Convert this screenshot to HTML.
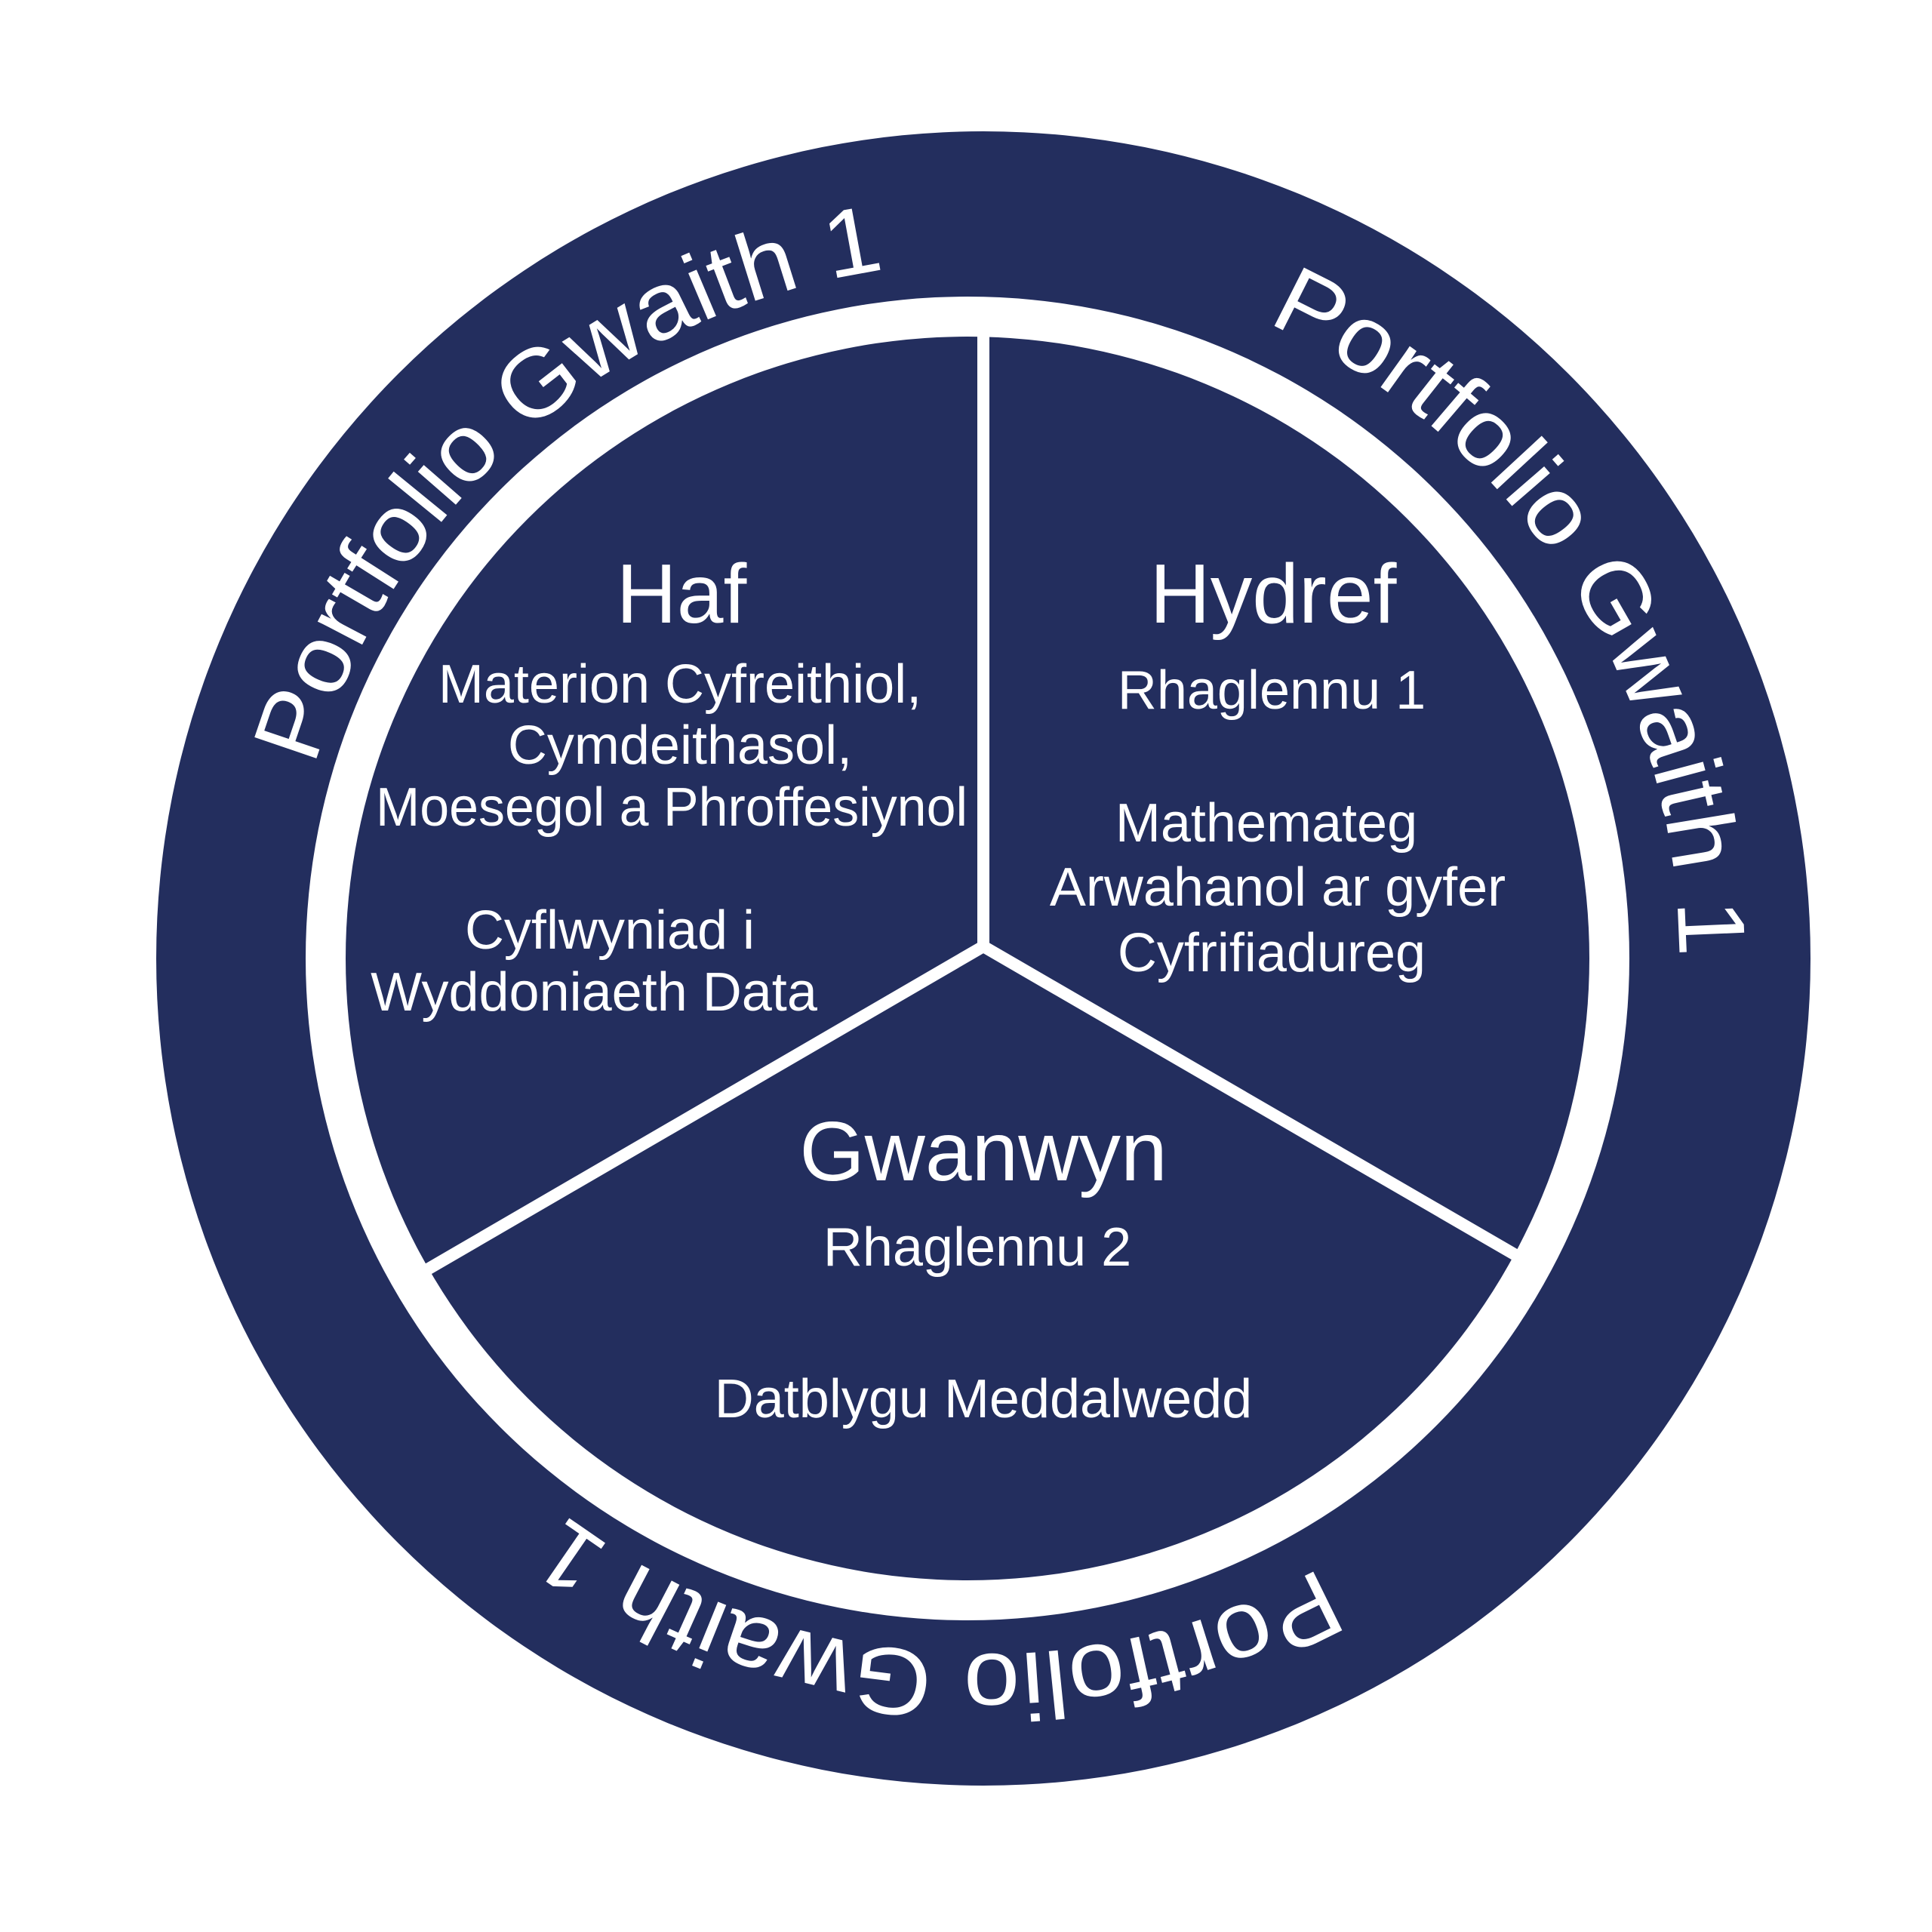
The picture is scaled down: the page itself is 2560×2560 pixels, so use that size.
<!DOCTYPE html>
<html><head><meta charset="utf-8"><style>html,body{margin:0;padding:0;background:#fff}svg{display:block}</style></head>
<body>
<svg width="2560" height="2560" viewBox="0 0 2560 2560" xmlns="http://www.w3.org/2000/svg" font-family="Liberation Sans, sans-serif">
<rect width="2560" height="2560" fill="#fff"/>
<circle cx="1303" cy="1270" r="1096" fill="#232e5e"/>
<circle cx="1282" cy="1270" r="877" fill="#fff"/>
<circle cx="1282" cy="1270" r="824" fill="#232e5e"/>
<g stroke="#fff" stroke-width="16" stroke-linecap="butt">
<line x1="1303" y1="440" x2="1303" y2="1256"/>
<line x1="1303" y1="1254" x2="563" y2="1684"/>
<line x1="1303" y1="1254" x2="2010" y2="1664"/>
</g>
<defs>
<path id="ring" d="M 2225 1270 A 922 922 0 1 1 381 1270 A 922 922 0 1 1 2225 1270"/>
</defs>
<g fill="#fff" font-size="126">
<text><textPath href="#ring" startOffset="3154" textLength="1060" lengthAdjust="spacingAndGlyphs">Portfolio Gwaith 1</textPath></text>
<text><textPath href="#ring" startOffset="4731" textLength="1060" lengthAdjust="spacingAndGlyphs">Portfolio Gwaith 1</textPath></text>
<text><textPath href="#ring" startOffset="982" textLength="1060" lengthAdjust="spacingAndGlyphs">Portfolio Gwaith 1</textPath></text>
</g>
<g fill="#fff" text-anchor="middle">
<text x="903" y="825" font-size="111">Haf</text>
<text x="901" y="931" font-size="72">Materion Cyfreithiol,</text>
<text x="901" y="1012" font-size="72">Cymdeithasol,</text>
<text x="890" y="1094" font-size="72" textLength="784" lengthAdjust="spacingAndGlyphs">Moesegol a Phroffesiynol</text>
<text x="808" y="1257" font-size="72">Cyflwyniad i</text>
<text x="787" y="1339" font-size="72">Wyddoniaeth Data</text>
<text x="1687" y="825" font-size="111">Hydref</text>
<text x="1685" y="939" font-size="72">Rhaglennu 1</text>
<text x="1678" y="1115" font-size="72">Mathemateg</text>
<text x="1693" y="1200" font-size="72">Arwahanol ar gyfer</text>
<text x="1685" y="1287" font-size="72">Cyfrifiadureg</text>
<text x="1303" y="1564" font-size="111">Gwanwyn</text>
<text x="1295" y="1677" font-size="72">Rhaglennu 2</text>
<text x="1303" y="1878" font-size="72">Datblygu Meddalwedd</text>
</g>
</svg>
</body></html>
